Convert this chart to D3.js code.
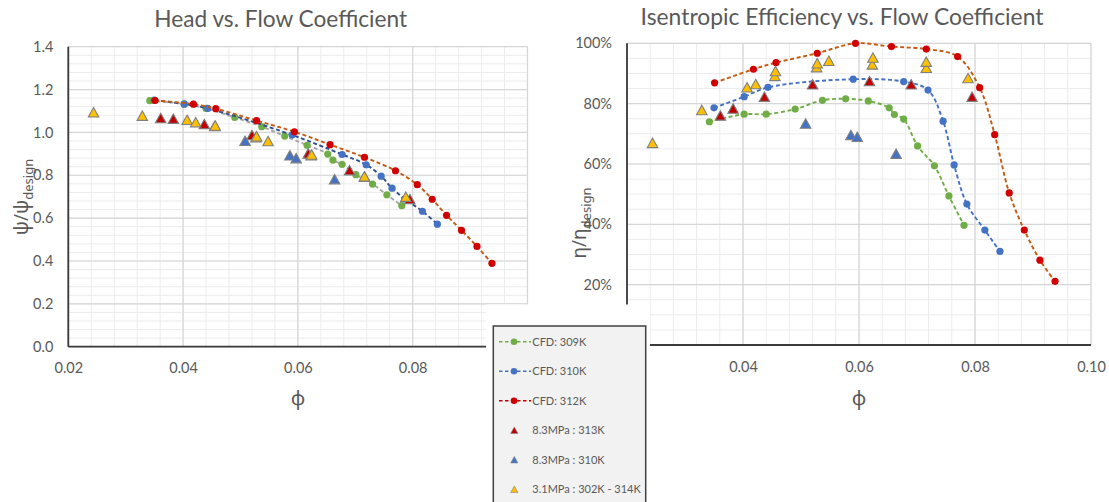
<!DOCTYPE html>
<html>
<head>
<meta charset="utf-8">
<script src="https://cdn.jsdelivr.net/npm/d3@7"></script>
<style>
  body { margin: 0; background: #fff; }
  svg { display: block; }
  text { font-family: Lato, "Noto Sans", sans-serif; fill: #595959; }
</style>
</head>
<body>
<svg id="chart" width="1109" height="502"></svg>
<script>
// ---- CFD: 309K ----
const phi309  = [0.0342, 0.0402, 0.0440, 0.0490, 0.0537, 0.0577, 0.0616, 0.0652, 0.0661, 0.0677, 0.0701, 0.0730, 0.0755, 0.0781];
const head309 = [1.148, 1.133, 1.112, 1.070, 1.027, 0.983, 0.940, 0.899, 0.871, 0.851, 0.803, 0.759, 0.709, 0.658];
const eff309  = [74.0, 76.5, 76.5, 78.2, 81.1, 81.6, 80.9, 78.6, 76.4, 74.9, 66.0, 59.4, 49.4, 39.7];

// ---- CFD: 310K ----
const phi310  = [0.0350, 0.0402, 0.0443, 0.0590, 0.0677, 0.0719, 0.0745, 0.0764, 0.0786, 0.0817, 0.0843];
const head310 = [1.151, 1.132, 1.112, 0.988, 0.897, 0.849, 0.796, 0.740, 0.690, 0.632, 0.572];
const eff310  = [78.6, 82.3, 85.4, 88.1, 87.3, 84.5, 74.2, 59.7, 46.7, 38.1, 31.0];

// ---- CFD: 312K ----
const phi312  = [0.0351, 0.0418, 0.0457, 0.0528, 0.0594, 0.0656, 0.0716, 0.0770, 0.0808, 0.0834, 0.0859, 0.0885, 0.0912, 0.0938];
const head312 = [1.149, 1.132, 1.111, 1.055, 1.003, 0.943, 0.884, 0.821, 0.756, 0.688, 0.613, 0.543, 0.468, 0.389];
const eff312  = [86.9, 91.4, 93.6, 96.7, 100.0, 98.9, 98.1, 95.6, 85.3, 69.7, 50.4, 38.1, 28.1, 21.1];

// ---- Test: 8.3MPa : 313K ----
const phiT313  = [0.0361, 0.0383, 0.0437, 0.0520, 0.0618, 0.0690, 0.0795];
const headT313 = [1.067, 1.064, 1.039, 0.988, 0.902, 0.824, 0.689];
const effT313  = [76.1, 78.4, 82.3, 86.4, 87.5, 86.4, 82.3];

// ---- Test: 8.3MPa : 310K ----
const phiT310  = [0.0508, 0.0586, 0.0597, 0.0664];
const headT310 = [0.961, 0.893, 0.880, 0.782];
const effT310  = [73.4, 69.6, 69.0, 63.4];

// ---- Test: 3.1MPa : 302K - 314K ----
const phiT31  = [0.0244, 0.0329, 0.0407, 0.0422, 0.0455, 0.0456, 0.0527, 0.0528, 0.0548, 0.0623, 0.0624, 0.0716, 0.0716, 0.0788];
const headT31 = [1.094, 1.078, 1.059, 1.048, 1.030, 1.032, 0.978, 0.982, 0.960, 0.893, 0.897, 0.793, 0.795, 0.700];
const effT31  = [67.0, 77.9, 85.4, 86.5, 89.2, 90.8, 92.1, 93.4, 94.2, 93.0, 95.3, 91.9, 93.9, 88.5];

// ---- axis ticks & labels ----
const xTicks = [0.02, 0.04, 0.06, 0.08, 0.10];
const headTicks = [0, 0.2, 0.4, 0.6, 0.8, 1.0, 1.2, 1.4];
const effTicks = [0, 20, 40, 60, 80, 100];
const legendLabels = ["CFD: 309K", "CFD: 310K", "CFD: 312K", "8.3MPa : 313K", "8.3MPa : 310K", "3.1MPa : 302K - 314K"];

const svg = d3.select("#chart");

// region under the legend panel, where the plots are masked out
const legendMask = { x: 486, y: 304.5, w: 164, h: 200 };
const inMask = (px, py) => px > legendMask.x - 12 && px < legendMask.x + legendMask.w + 12 && py > legendMask.y;

// triangle marker centred on its bounding box
const triShape = {
  draw(ctx, size) {
    const w = Math.sqrt(size), h = w * 0.9;
    ctx.moveTo(0, -h / 2);
    ctx.lineTo(w / 2, h / 2);
    ctx.lineTo(-w / 2, h / 2);
    ctx.closePath();
  }
};

const zip = (xs, ys) => xs.map((x, i) => [x, ys[i]]);

function drawPanel(opt) {
  const { x, y, g } = opt;
  const [x0, x1] = x.range();
  const [y0, y1] = y.range(); // y0 bottom, y1 top

  // minor grid
  const gm = g.append("g").attr("stroke", "#ececec").attr("stroke-width", 1);
  d3.range(0, 21).map(i => 0.02 + i * 0.004).forEach(v => {
    gm.append("line").attr("x1", x(v)).attr("x2", x(v)).attr("y1", y0).attr("y2", y1);
  });
  opt.yMinor.forEach(v => {
    gm.append("line").attr("x1", x0).attr("x2", x1).attr("y1", y(v)).attr("y2", y(v));
  });
  // major grid
  const gM = g.append("g").attr("stroke", "#d6d6d6").attr("stroke-width", 1.2);
  xTicks.forEach(v => gM.append("line").attr("x1", x(v)).attr("x2", x(v)).attr("y1", y0).attr("y2", y1));
  opt.yTicks.forEach(v => gM.append("line").attr("x1", x0).attr("x2", x1).attr("y1", y(v)).attr("y2", y(v)));

  // axes (labels only, lines drawn separately)
  const ax = g.append("g").attr("transform", `translate(0,${y0})`)
    .call(d3.axisBottom(x).tickValues(xTicks).tickFormat(d3.format(".2f")).tickSize(0).tickPadding(16.5));
  const ay = g.append("g").attr("transform", `translate(${x0},0)`)
    .call(opt.yAxis(d3.axisLeft(y).tickValues(opt.yTicks)).tickSize(0).tickPadding(15));
  [ax, ay].forEach(a => {
    a.select(".domain").remove();
    a.selectAll("text").style("font-family", "Lato, sans-serif").style("font-size", "14.5px").attr("fill", "#595959");
  });
  // labels that fall behind the legend panel are not shown
  ax.selectAll(".tick").filter(d => inMask(x(d), y0 + 20)).remove();
  ay.selectAll(".tick").filter(d => inMask(x0 - 25, y(d))).remove();

  g.append("line").attr("x1", x0).attr("x2", x0).attr("y1", y1).attr("y2", y0)
    .attr("stroke", "#3a3a3a").attr("stroke-width", 1.8);
  g.append("line").attr("x1", x0).attr("x2", x1).attr("y1", y0).attr("y2", y0)
    .attr("stroke", "#3a3a3a").attr("stroke-width", 1.8);

  // CFD series: smoothed dashed lines with round markers
  const line = d3.line().x(d => x(d[0])).y(d => y(d[1])).curve(d3.curveCatmullRom.alpha(0.5));
  opt.cfd.forEach(s => {
    g.append("path").attr("d", line(s.pts)).attr("fill", "none")
      .attr("stroke", s.line).attr("stroke-width", 1.9).attr("stroke-dasharray", "4,2.6");
    g.append("g").selectAll("circle").data(s.pts).join("circle")
      .attr("cx", d => x(d[0])).attr("cy", d => y(d[1])).attr("r", 3.6).attr("fill", s.dot);
  });

  // test series: triangles
  const sym = d3.symbol().type(triShape).size(110);
  opt.tests.forEach(s => {
    g.append("g").selectAll("path").data(s.pts).join("path")
      .attr("d", sym).attr("transform", d => `translate(${x(d[0])},${y(d[1])})`)
      .attr("fill", s.fill).attr("stroke", "#7f7f7f").attr("stroke-width", 1.1);
  });
}

const colGreen = "#70ad47", colBlue = "#4472c4", colRed = "#d00000";
const triRed = "#c00000", triBlue = "#4472c4", triYellow = "#ffc000";

// ---- Head chart ----
const xL = d3.scaleLinear().domain([0.02, 0.10]).range([68.3, 527.5]);
const yL = d3.scaleLinear().domain([0, 1.4]).range([346.7, 46.7]);
drawPanel({
  g: svg.append("g"), x: xL, y: yL,
  yTicks: headTicks,
  yMinor: d3.range(0, 36).map(i => i * 0.04),
  yAxis: a => a.tickFormat(d3.format(".1f")),
  cfd: [
    { pts: zip(phi309, head309), line: "#a6a6a6", dot: colGreen },
    { pts: zip(phi310, head310), line: "#2f4f8f", dot: colBlue },
    { pts: zip(phi312, head312), line: "#c55a11", dot: colRed }
  ],
  tests: [
    { pts: zip(phiT313, headT313), fill: triRed },
    { pts: zip(phiT310, headT310), fill: triBlue },
    { pts: zip(phiT31, headT31), fill: triYellow }
  ]
});

// ---- Efficiency chart ----
const xR = d3.scaleLinear().domain([0.02, 0.10]).range([627, 1091]);
const yR = d3.scaleLinear().domain([0, 100]).range([345, 43.3]);
drawPanel({
  g: svg.append("g"), x: xR, y: yR,
  yTicks: effTicks,
  yMinor: d3.range(0, 21).map(i => i * 5),
  yAxis: a => a.tickFormat(d => d + "%"),
  cfd: [
    { pts: zip(phi309, eff309), line: colGreen, dot: colGreen },
    { pts: zip(phi310, eff310), line: colBlue, dot: colBlue },
    { pts: zip(phi312, eff312), line: "#c55a11", dot: colRed }
  ],
  tests: [
    { pts: zip(phiT313, effT313), fill: triRed },
    { pts: zip(phiT310, effT310), fill: triBlue },
    { pts: zip(phiT31, effT31), fill: triYellow }
  ]
});

// ---- titles ----
function fitText(sel, width) {
  const w = sel.node().getComputedTextLength();
  const fs = parseFloat(sel.style("font-size"));
  sel.style("font-size", (fs * width / w) + "px");
}
fitText(svg.append("text").attr("x", 280.7).attr("y", 26.7).attr("text-anchor", "middle")
  .style("font-size", "21px").text("Head vs. Flow Coefficient"), 253);
fitText(svg.append("text").attr("x", 842).attr("y", 25).attr("text-anchor", "middle")
  .style("font-size", "21px").text("Isentropic Efficiency vs. Flow Coefficient"), 403);

// ---- axis titles ----
const greek = "'Noto Sans', 'DejaVu Sans', sans-serif";
[298, 859].forEach(cx => {
  svg.append("text").attr("x", cx).attr("y", 405).attr("text-anchor", "middle")
    .style("font-family", greek).style("font-size", "20px").text("\u03D5");
});
function yTitle(cx, cy, sym) {
  const t = svg.append("text").attr("transform", `translate(${cx},${cy}) rotate(-90)`)
    .attr("text-anchor", "middle").attr("dy", "0.35em").style("font-family", greek);
  t.append("tspan").style("font-size", "19px").text(sym + "/" + sym);
  t.append("tspan").attr("dy", "5").style("font-size", "13px").text("design");
}
yTitle(22, 197, "\u03C8");
yTitle(580, 223, "\u03B7");

// ---- legend ----
svg.append("rect").attr("x", legendMask.x).attr("y", legendMask.y)
  .attr("width", legendMask.w).attr("height", legendMask.h).attr("fill", "#fff");
svg.append("rect").attr("x", 493.3).attr("y", 326).attr("width", 152.4).attr("height", 190)
  .attr("fill", "#f2f2f2").attr("stroke", "#404040").attr("stroke-width", 1.5);

const legendStyles = [
  { kind: "line", line: colGreen, dot: colGreen },
  { kind: "line", line: colBlue, dot: colBlue },
  { kind: "line", line: "#c00000", dot: colRed },
  { kind: "tri", fill: triRed },
  { kind: "tri", fill: triBlue },
  { kind: "tri", fill: triYellow }
];
const legSym = d3.symbol().type(triShape).size(52);
legendLabels.forEach((label, i) => {
  const ly = 341.7 + i * 29.5;
  const s = legendStyles[i];
  if (s.kind === "line") {
    svg.append("line").attr("x1", 499).attr("x2", 531).attr("y1", ly).attr("y2", ly)
      .attr("stroke", s.line).attr("stroke-width", 1.6).attr("stroke-dasharray", "3.5,2.5");
    svg.append("circle").attr("cx", 514).attr("cy", ly).attr("r", 3.3).attr("fill", s.dot);
  } else {
    svg.append("path").attr("d", legSym).attr("transform", `translate(514.3,${ly})`)
      .attr("fill", s.fill).attr("stroke", "#7f7f7f").attr("stroke-width", 0.6);
  }
  svg.append("text").attr("x", 532.3).attr("y", ly).attr("dy", "0.36em")
    .style("font-size", "11px").text(label);
});
</script>
</body>
</html>
